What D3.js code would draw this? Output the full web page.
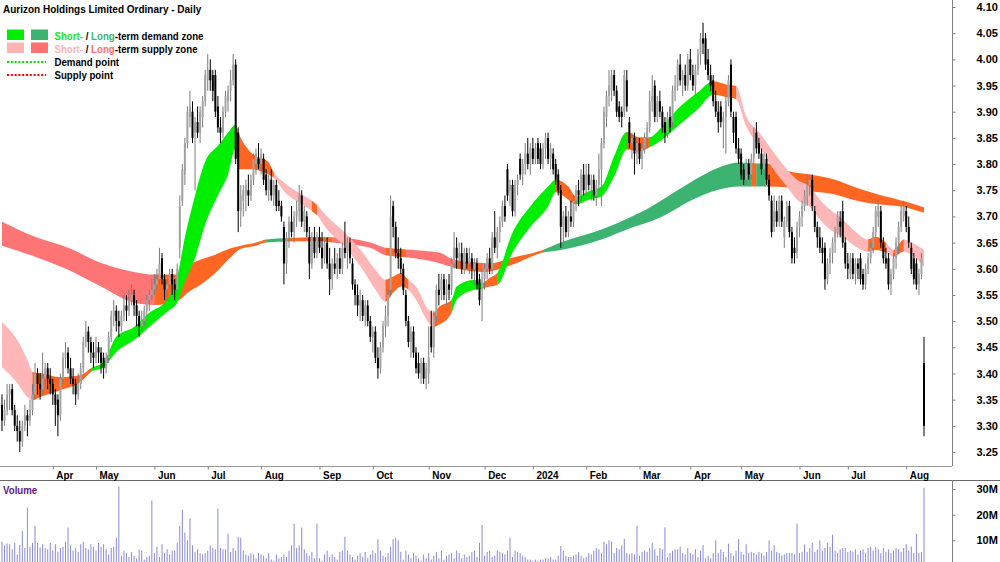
<!DOCTYPE html>
<html>
<head>
<meta charset="utf-8">
<script src="https://cdn.jsdelivr.net/npm/d3@7/dist/d3.min.js"></script>
<style>
  body { margin: 0; background: #fff; }
  svg { display: block; font-family: "Liberation Sans", Arial, sans-serif; font-weight: bold; }
</style>
</head>
<body>
<svg width="1000" height="562"></svg>
<script>
// ---- data (prices in cents, volume in millions) ----
const opens = [
334,331,333,336,337,333,330,329,327,330, 332,331,333,336,340,338,337,339,341,339,
338,336,335,332,339,343,344,341,339,338, 336,338,341,346,348,346,344,343,345,344,
343,341,343,347,351,352,350,349,351,353, 352,354,355,353,351,349,350,352,354,355,
356,357,358,362,358,356,357,359,357,356, 364,373,378,384,389,390,386,388,386,389,
392,396,398,397,397,391,387,386,390,392, 394,396,399,386,371,373,374,375,374,377,
380,381,380,381,378,375,377,374,376,373, 372,368,361,366,369,367,370,371,374,369,
370,366,361,366,363,366,364,362,365,361, 358,361,360,362,360,364,363,365,361,357,
355,353,354,351,353,350,347,348,343,341, 345,349,351,356,372,368,363,362,360,355,
350,346,348,344,342,340,342,339,340,349, 345,351,356,356,358,355,357,356,361,364,
362,363,360,363,361,362,360,361,358,356, 358,360,362,360,366,364,367,369,372,379,
375,376,371,376,381,378,380,382,380,383, 381,384,383,380,383,385,381,382,380,378,
375,368,370,367,370,369,373,375,374,378, 375,378,376,377,374,376,379,384,389,393,
394,397,394,391,390,390,396,388,384,385, 382,384,381,383,385,387,392,395,389,392,
390,388,386,389,388,394,395,399,396,397, 395,400,397,395,398,401,404,404,400,397,
396,392,390,391,388,389,392,399,389,389, 383,382,379,377,380,378,381,386,384,382,
379,381,377,373,368,371,369,373,366,369, 372,367,364,363,368,370,372,374,376,377,
371,368,366,364,364,358,361,363,365,367, 369,371,365,361,359,362,359,361,362,359,
357,360,362,364,367,370,371,365,362,362, 357,359,362,365,368,370,371,368,364,362,
361,357,359,342];
const highs = [
336,335,338,338,338,334,332,331,331,334, 333,335,338,342,341,340,344,342,342,341,
339,337,336,340,344,346,345,343,341,339, 340,342,347,350,349,347,346,347,346,345,
344,344,348,352,354,353,352,352,355,355, 356,357,356,354,352,352,353,355,356,358,
359,360,364,363,359,358,360,360,358,361, 374,380,385,391,394,392,389,391,391,393,
398,401,400,398,398,393,389,391,394,395, 398,401,400,387,376,376,377,378,378,382,
383,384,383,382,379,378,379,377,377,375, 373,369,367,370,372,371,373,376,375,372,
371,368,367,368,367,368,367,366,366,364, 362,364,363,364,365,369,366,366,362,358,
357,356,355,354,354,351,349,349,345,346, 350,353,356,374,373,369,366,364,361,356,
351,349,349,345,344,343,343,342,349,352, 352,357,359,359,359,358,359,362,367,366,
365,365,364,364,364,363,362,362,359,360, 361,363,364,367,371,368,370,373,374,380,
377,377,377,378,382,381,384,385,384,385, 384,385,384,384,386,386,384,383,381,379,
376,371,372,371,373,374,376,377,379,380, 380,380,378,378,377,382,385,391,394,398,
398,398,395,392,391,398,398,389,386,386, 385,385,384,386,388,394,397,396,393,394,
391,389,390,391,395,397,400,401,398,399, 401,402,399,399,402,405,407,405,402,399,
397,394,392,392,390,393,397,400,390,390, 385,383,380,381,381,382,387,388,385,383,
382,382,378,374,374,373,374,374,370,373, 373,368,366,369,371,373,375,378,378,378,
372,369,368,366,365,362,364,366,368,371, 371,373,366,363,363,363,362,362,363,360,
361,363,365,368,372,373,372,366,364,363, 360,363,366,369,372,373,372,370,365,363,
362,360,363,347];
const lows = [
329,330,332,333,332,329,327,325,326,329, 328,330,332,335,336,335,336,337,337,336,
334,330,328,331,338,341,340,338,336,334, 335,337,340,345,344,342,341,342,342,340,
339,340,342,346,349,348,347,348,350,350, 351,353,351,349,347,348,349,351,352,354,
355,356,357,357,354,354,356,355,354,355, 362,372,376,383,387,384,375,385,384,387,
391,394,394,392,389,386,384,385,389,390, 392,395,380,367,368,370,371,372,373,376,
378,379,378,376,374,373,373,372,371,371, 369,357,359,364,366,365,368,369,368,367,
366,358,360,362,362,363,360,361,360,355, 356,359,358,359,359,362,360,361,356,353,
351,350,350,349,349,346,344,342,339,340, 344,347,349,355,366,362,360,359,355,349,
345,343,343,340,339,338,338,337,338,344, 343,350,353,354,354,353,354,355,360,360,
360,359,359,360,359,358,357,356,353,350, 356,358,359,359,363,362,365,368,369,373,
372,370,370,374,377,376,378,379,378,380, 380,380,379,379,381,380,379,378,376,374,
364,364,366,366,368,368,371,372,373,374, 374,375,373,373,372,375,372,383,387,391,
392,393,389,388,387,389,390,383,381,378, 380,380,379,382,383,386,390,388,388,389,
386,384,385,386,387,392,394,395,393,394, 394,396,394,393,397,399,401,398,396,394,
391,389,386,387,383,382,391,389,384,382, 380,377,376,376,377,377,380,382,381,378,
378,376,373,366,367,368,368,368,364,368, 366,361,361,362,366,368,371,372,374,371,
367,364,363,361,356,357,359,361,363,366, 366,364,360,358,358,358,357,358,357,356,
356,359,361,363,366,368,364,361,360,356, 355,358,360,363,367,369,367,364,359,357,
356,355,358,328];
const closes = [
331,333,336,337,333,330,329,327,330,332, 331,333,336,340,338,337,339,341,339,338,
336,334,332,339,343,344,341,339,338,336, 338,341,346,348,346,344,343,345,344,342,
341,343,347,351,352,350,349,351,353,352, 354,355,353,351,349,350,352,354,355,356,
357,358,361,358,356,357,359,357,356,360, 372,379,384,390,391,385,388,386,390,392,
397,398,396,394,390,387,386,390,393,394, 396,399,381,371,374,375,376,374,377,381,
382,380,382,377,375,377,374,376,372,372, 370,361,366,369,367,370,371,374,369,371,
367,361,366,363,366,364,362,365,361,358, 361,360,362,360,364,363,365,362,357,355,
353,354,351,353,350,347,348,343,341,345, 349,351,355,370,368,363,362,360,356,350,
346,348,344,341,340,342,339,341,343,345, 351,356,355,358,355,357,356,361,364,362,
363,360,363,361,362,360,361,357,354,358, 360,362,360,366,364,367,369,372,370,374,
376,371,376,377,378,380,382,380,383,381, 383,381,380,383,385,381,383,379,377,375,
368,370,367,370,369,373,375,374,378,375, 378,376,377,374,376,379,384,390,393,395,
397,394,390,389,389,397,391,384,385,382, 384,381,383,385,387,392,393,389,392,390,
387,386,389,387,394,395,399,396,397,395, 400,397,395,398,401,404,403,399,397,395,
392,390,388,388,389,392,396,390,386,383, 381,378,377,380,378,381,386,383,382,379,
381,377,374,367,371,369,373,369,369,372, 367,362,363,368,370,372,374,376,377,372,
368,366,364,363,358,361,363,365,367,370, 368,365,361,360,362,359,361,360,358,357,
360,362,364,367,371,372,365,362,361,357, 359,362,365,368,371,372,368,365,360,358,
357,359,362,330];
const volumes = [
9.5,8,8.8,8.5,6.5,9,4.5,8.2,13.7,7, 22.7,7.5,9,15.7,9,7.2,8.5,7,6.5,9,
6,8.5,5.5,7,7.5,9.5,15,8,6,7, 5.5,8.5,9.5,7,6.5,8.5,7.5,6,9,7.5,
8.5,6.5,4.5,7,7.5,11,31,4,6,5, 3.5,5.5,4,3,6.5,6,2.5,3.5,4,25.5,
5,7.5,3.5,8.5,5,6.5,4.5,6,6,9, 15.7,22,13,10,18.6,8,5.5,6.5,5,4.5,
5,6,8,7,6.5,22.4,7,6.5,6.5,12.5, 5.5,7,6,11.4,11,6,4.5,4,5,4.5,
3,5,4.5,4,3,5,2.5,2,4.5,3, 3.5,4.5,3.5,6,8,16.5,7,8,15,6.5,
5,4,5.5,3,16.5,3,2,4.5,6,3.5, 4.5,3.5,2.5,5.5,6,11.4,6,4.5,3.5,2.5,
4,5,3.5,5.5,3,4.5,6,5,10.4,6, 4,3.5,5,7.5,10.5,11,10,5.5,2.5,6,
4.5,3,5,4,3,2,4.5,3,5,2.5, 4,5.5,3,6,2.5,4,4.5,5,3,6,
5,3,4.5,3.5,4,5.5,6,3.5,9,16, 4,5.5,6,3.5,4,6,5.5,5,4.5,6,
11,3.5,6,5.5,5,4,3.5,2.5,2.5,2, 2.5,2,2.5,2.5,3,3,3.5,2.5,2.5,4,
7.8,6,4,3.5,3.5,4,4.5,5.5,4,3, 3.5,5,4.5,6,7,6.5,5,9.5,8.5,10,
9.5,5,7,6.5,8,10.6,5,4.5,5,4.5, 15.7,4,5.5,6,5.5,7,9,6.5,4,7,
6.5,15,3.5,5,6,6.5,6.5,7.5,5,4.5, 7,5,4.5,6.5,3.5,6,8.2,3,4,3,
5,10,5,6.5,5.5,3.5,8.7,5,4,6, 10.5,5.5,4.5,8.5,5,5.5,5,4.5,5.5,5,
4,5.5,10,6,8,5.5,5,4,4.5,5, 5,5,4.5,16.5,5,5.5,8.4,5.5,7,9,
5.5,6.5,10,6,7,9,7.5,12.2,6,5, 6.5,7,7,5.5,6,5.5,6.5,4.5,6,6.5,
5,7,7.5,6,7.5,6.5,5,7,5.5,6.5, 5,6,7,6.5,5.5,7,8.5,6,7.6,5,
12.5,5,5.5,30.5];

// short-term zone: bar index, upper edge, lower edge (cents), colour key
const stIdx = [0,6,10,12,15,23,31,35,40,45,52,58,65,69,72,76,80,85,89,92,93,98,105,107,111,118,122,124,128,135,142,147,151,154,157,160,163,168,170,172,177,179,186,189,192,195,201,208,215,218,223,226,231,236,241,246,251,255,260,266,274,280,285,289,293,298,303,309,313,318,322,326,331,335,341,344,348,351,355,358,363];
const stTop = [349.8,346.4,342.6,340.3,340.1,339.3,339.7,341.0,342.2,347.0,348.9,351.6,354.1,358.5,366,374,380.5,383.5,386,387.5,386.1,382.2,380.3,378.4,376.5,374.2,373,372.2,370.0,366.9,363.1,359.8,357.9,358.5,359.2,357.9,356.6,352.1,351.6,352.7,354.1,356.6,357.9,357.3,358.3,359.2,366.9,371.9,375.7,377.0,375.7,373.8,374.8,375.7,381.5,386.1,385.1,385.1,387.2,390.5,393.7,395.8,395.2,394.9,389.1,386.1,382.8,379.0,377.0,375.7,373.2,371.3,369.4,367.5,365.6,366.1,365.0,363.6,365.6,365.0,363.6];
const stBot = [341.2,338.2,335.5,334.9,335.5,336.8,338.4,340.3,341.2,344.1,346.4,348.9,351.8,353.5,357.5,362,368.5,374,378,383,379.0,379.0,378.0,377.4,374.8,372.3,371,370.2,367.5,364.2,359.8,356.0,353.7,355.4,356.6,356.0,354.1,349.7,348.9,349.3,351.6,354.1,356.0,356.2,356.6,356.9,363.1,368.0,371.9,374.6,373.2,372.3,373.2,373.8,377.6,382.8,382.4,383.2,384.7,387.2,390.5,393.3,392.8,392.4,387.2,383.4,379.5,375.7,373.2,371.9,369.4,367.5,366.1,364.6,363.3,363.6,363.1,362.3,363.3,362.7,360.4];
const stCol = ['ss','ss','ss','or','or','or','or','sd','sd','sd','sd','sd','sd','sd','sd','sd','sd','sd','sd','or','or','or','or','ss','ss','ss','or','ss','ss','ss','ss','ss','or','or','or','ss','ss','ss','or','or','sd','sd','sd','or','or','sd','sd','sd','sd','or','or','sd','sd','sd','sd','or','or','sd','sd','sd','sd','or','or','ss','ss','ss','ss','ss','ss','ss','ss','ss','ss','ss','or','or','ss','or','ss','ss','ss'];

// long-term zone
const ltIdx = [0,13,26,39,52,60,70,73,78,84,90,94,100,104,113,124,130,145,151,159,172,178,189,192,200,213,220,236,248,255,260,271,282,290,295,297,301,310,318,328,335,345,356,363];
const ltTop = [369.0,366.1,364.0,361.1,359.4,358.9,358.9,360.4,361.7,362.7,363.9,364.4,365.0,365.6,365.9,366.0,366.0,365.0,364.0,363.7,363.1,361.7,361.1,361.0,362.0,363.6,365.0,367.5,370.0,371.7,373.2,376.5,379.3,380.3,380.2,380.1,380.1,378.6,378.0,377.0,375.7,374.2,372.8,371.7];
const ltBot = [364.4,362.3,359.8,356.6,353.5,353.1,354.1,355.4,356.9,359.2,362.2,363.8,364.4,365.0,365.2,365.3,365.0,364.0,362.6,362.2,361.1,360.2,359.4,359.5,360.6,363.1,363.6,365.6,367.9,369.0,370.0,373.0,375.1,375.7,375.7,375.7,375.7,375.5,374.8,374.2,373.2,372.3,371.7,370.7];
const ltCol = ['ls','ls','ls','ls','ls','or','or','or','or','or','or','or','or','ld','or','or','ls','ls','or','ls','ls','or','ls','or','or','ld','ld','ld','ld','ld','ld','ld','ld','ld','or','ld','or','or','or','or','or','or','or','or'];

const priceTicks = d3.range(325, 411, 5).map(d => d / 100);
const volumeTicks = [10, 20, 30];
const holidays = ['2023-04-07','2023-04-10','2023-04-25','2023-06-12','2023-12-25','2023-12-26',
  '2024-01-01','2024-01-26','2024-03-29','2024-04-01','2024-04-25','2024-06-10'];

// ---- layout ----
const svg = d3.select('svg');
const N = closes.length;
const axisX = 952;
const plotBottom = 466, dateBottom = 480;

const zoneColors = {sd: '#00ee00', ld: '#3cb371', ss: '#ffb6b6', ls: '#ff7474', or: '#ff6622'};

// trading days (weekdays less ASX holidays)
const fmtKey = d3.timeFormat('%Y-%m-%d');
const dates = [];
for (let d = new Date(2023, 2, 6); dates.length < N; d.setDate(d.getDate() + 1)) {
  const wd = d.getDay();
  if (wd === 0 || wd === 6 || holidays.includes(fmtKey(d))) continue;
  dates.push(new Date(d));
}

const x = d3.scaleLinear().domain([0, N - 1]).range([2, 924]);
const y = d3.scaleLinear().domain([3.25, 4.10]).range([452, 7]);
const yv = d3.scaleLinear().domain([0, 30]).range([566, 489]);

svg.append('rect').attr('width', 1000).attr('height', 562).attr('fill', '#fff');

const defs = svg.append('defs');
defs.append('clipPath').attr('id', 'plot')
  .append('rect').attr('x', 0).attr('y', 0).attr('width', axisX).attr('height', plotBottom);

const plot = svg.append('g').attr('clip-path', 'url(#plot)');

// zones: one smooth band, clipped into colour runs
const zoneArea = d3.area()
  .x(d => x(d.i))
  .y0(d => y(d.b / 100))
  .y1(d => y(d.t / 100))
  .curve(d3.curveMonotoneX);

let clipId = 0;
function drawZone(idx, top, bot, col) {
  const pts = idx.map((i, k) => ({i: i, t: top[k], b: bot[k]}));
  let s = 0;
  for (let k = 1; k <= idx.length; k++) {
    if (k === idx.length || col[k] !== col[s]) {
      const e = Math.min(k, idx.length - 1);
      const id = 'z' + (clipId++);
      const x0 = s === 0 ? -5 : x(idx[s]);
      const x1 = e === idx.length - 1 ? x(idx[e]) + 0.5 : x(idx[e]);
      defs.append('clipPath').attr('id', id)
        .append('rect').attr('x', x0).attr('y', 0).attr('width', x1 - x0 + 0.3).attr('height', plotBottom);
      plot.append('path').datum(pts)
        .attr('d', zoneArea)
        .attr('fill', zoneColors[col[s]])
        .attr('clip-path', `url(#${id})`);
      s = k;
    }
  }
}
drawZone(ltIdx, ltTop, ltBot, ltCol);
drawZone(stIdx, stTop, stBot, stCol);

// candles
const bars = d3.range(N).map(i => ({i, o: opens[i] / 100, h: highs[i] / 100, l: lows[i] / 100, c: closes[i] / 100}));
const candle = plot.selectAll('g.candle').data(bars).enter().append('g').attr('class', 'candle');
candle.append('line')
  .attr('x1', d => x(d.i)).attr('x2', d => x(d.i))
  .attr('y1', d => y(d.h)).attr('y2', d => y(d.l))
  .attr('stroke', d => d.c >= d.o ? '#7c7c7c' : '#000')
  .attr('stroke-width', 1);
candle.append('rect')
  .attr('x', d => x(d.i) - 1)
  .attr('width', 2)
  .attr('y', d => y(Math.max(d.o, d.c)))
  .attr('height', d => Math.max(1, Math.abs(y(d.o) - y(d.c))))
  .attr('fill', d => d.c >= d.o ? '#a4a4a4' : '#000');

// axis frame lines
svg.append('line').attr('x1', 0).attr('x2', axisX).attr('y1', plotBottom + 0.5).attr('y2', plotBottom + 0.5).attr('stroke', '#9a9a9a');
svg.append('line').attr('x1', 0).attr('x2', 1000).attr('y1', dateBottom + 0.5).attr('y2', dateBottom + 0.5).attr('stroke', '#6a6a6a');
svg.append('line').attr('x1', axisX + 0.5).attr('x2', axisX + 0.5).attr('y1', 0).attr('y2', plotBottom).attr('stroke', '#808080');
svg.append('line').attr('x1', axisX + 0.5).attr('x2', axisX + 0.5).attr('y1', dateBottom).attr('y2', 562).attr('stroke', '#808080');

// price axis
const yAxis = svg.append('g').attr('transform', `translate(${axisX + 0.5},0)`)
  .call(d3.axisRight(y).tickValues(priceTicks).tickFormat(d3.format('.2f')).tickSize(3).tickPadding(21));
yAxis.select('.domain').remove();
yAxis.selectAll('.tick line').attr('stroke', '#808080');
yAxis.selectAll('text').attr('font-size', 11).attr('font-weight', 'bold').attr('fill', '#000')
  .attr('font-family', '"Liberation Sans", Arial, sans-serif');

// date axis: first trading day of each month
const monthStarts = d3.range(1, N).filter(i => dates[i].getMonth() !== dates[i - 1].getMonth());
const monthLabel = i => dates[i].getMonth() === 0 ? d3.timeFormat('%Y')(dates[i]) : d3.timeFormat('%b')(dates[i]);
const xAxis = svg.append('g').attr('transform', `translate(0,${plotBottom + 0.5})`)
  .call(d3.axisBottom(x).tickValues(monthStarts).tickFormat(monthLabel).tickSize(3).tickPadding(2));
xAxis.select('.domain').remove();
xAxis.selectAll('.tick line').attr('stroke', '#808080');
xAxis.selectAll('text')
  .attr('text-anchor', 'start').attr('x', 3.4).attr('transform', 'scale(0.9,1)')
  .attr('font-size', 11).attr('font-weight', 'bold').attr('fill', '#000')
  .attr('font-family', '"Liberation Sans", Arial, sans-serif');

// volume
svg.append('g').selectAll('line').data(bars).enter().append('line')
  .attr('x1', d => x(d.i)).attr('x2', d => x(d.i))
  .attr('y1', yv(0)).attr('y2', d => yv(volumes[d.i]))
  .attr('stroke', '#8a8ad8').attr('stroke-width', 1);

const vAxis = svg.append('g').attr('transform', `translate(${axisX + 0.5},0)`)
  .call(d3.axisRight(yv).tickValues(volumeTicks).tickFormat(d => d + 'M').tickSize(3).tickPadding(21));
vAxis.select('.domain').remove();
vAxis.selectAll('.tick line').attr('stroke', '#808080');
vAxis.selectAll('text').attr('font-size', 11).attr('font-weight', 'bold').attr('fill', '#000')
  .attr('font-family', '"Liberation Sans", Arial, sans-serif');

svg.append('text').attr('transform', 'translate(3,494) scale(0.88,1)')
  .attr('font-size', 11).attr('fill', '#5a1a86').text('Volume');

// title and legend
svg.append('text').attr('transform', 'translate(3,12.5) scale(0.87,1)')
  .attr('font-size', 11.5).attr('fill', '#000').text('Aurizon Holdings Limited Ordinary - Daily');

const legend = svg.append('g');
legend.append('rect').attr('x', 7).attr('y', 29.5).attr('width', 17).attr('height', 10.5).attr('fill', zoneColors.sd);
legend.append('rect').attr('x', 31).attr('y', 29.5).attr('width', 17).attr('height', 10.5).attr('fill', zoneColors.ld);
legend.append('rect').attr('x', 7).attr('y', 42.5).attr('width', 17).attr('height', 10.5).attr('fill', '#ffb3b3');
legend.append('rect').attr('x', 31).attr('y', 42.5).attr('width', 17).attr('height', 10.5).attr('fill', '#ff7070');
legend.append('line').attr('x1', 7).attr('x2', 46).attr('y1', 62).attr('y2', 62)
  .attr('stroke', '#00dd00').attr('stroke-width', 2.2).attr('stroke-dasharray', '2,1.8');
legend.append('line').attr('x1', 7).attr('x2', 46).attr('y1', 75).attr('y2', 75)
  .attr('stroke', '#ff0000').attr('stroke-width', 2.2).attr('stroke-dasharray', '2,1.8');

const legendRows = [
  {y: 39.5, parts: [['Short-', '#1ee01e'], [' / ', '#000'], ['Long', '#3cb371'], ['-term demand zone', '#000']]},
  {y: 52.5, parts: [['Short-', '#ffb3b3'], [' / ', '#000'], ['Long', '#ff6f6f'], ['-term supply zone', '#000']]},
  {y: 66, parts: [['Demand point', '#000']]},
  {y: 79, parts: [['Supply point', '#000']]}
];
legendRows.forEach(r => {
  const t = legend.append('text').attr('transform', `translate(54.5,${r.y}) scale(0.88,1)`).attr('font-size', 11);
  r.parts.forEach(p => t.append('tspan').attr('fill', p[1]).text(p[0]));
});
</script>
</body>
</html>
